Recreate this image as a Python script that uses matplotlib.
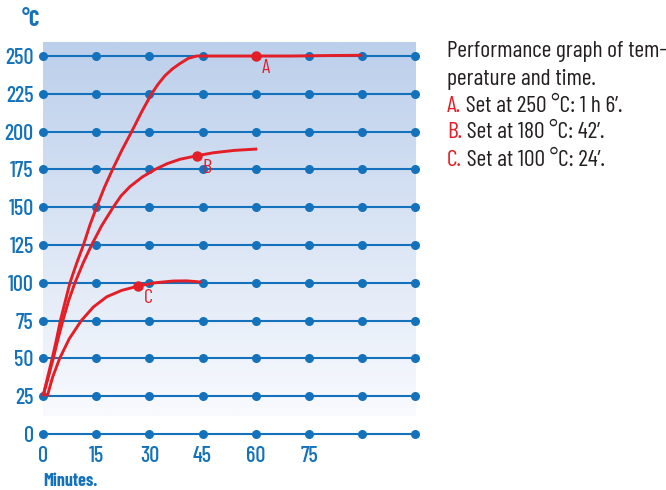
"""Oven performance graph: temperature against time for three set points."""

import numpy as np
import matplotlib.pyplot as plt
from matplotlib.colors import LinearSegmentedColormap

plt.switch_backend("Agg")
plt.rcParams["font.family"] = ["Barlow Condensed", "Roboto Condensed", "DejaVu Sans"]

BLUE = "#1372BB"
RED = "#E41E26"
DARK = "#231F20"

# grid
grid_temps = [0, 25, 50, 75, 100, 125, 150, 175, 200, 225, 250]
grid_minutes = [0, 15, 30, 45, 60, 75, 90, 105]
x_labels = ["0", "15", "30", "45", "60", "75", "", ""]

# curve A (set 250 °C)
a_min = [0, 1.3, 2.6, 3.8, 4.9, 6.3, 7.6, 9.5, 11.4, 13.2, 15.1, 17.3, 19.6,
         22.3, 25.0, 27.8, 30.6, 32.5, 34.4, 36.5, 38.6, 41.0, 43.3, 50, 60, 70, 80, 90]
a_temp = [25, 37.5, 50, 62.5, 75, 88, 100, 113, 125, 138, 150, 163, 175,
          188, 200, 213, 225, 231.5, 237, 241.5, 245, 248.5, 250, 250, 250, 250,
          250.3, 250.5]

# curve B (set 180 °C)
b_min = [0, 1.5, 2.9, 4.2, 5.6, 7.2, 9.0, 11.3, 13.7, 16.6, 19.8, 22.0, 24.5,
         28.0, 31.6, 35.0, 38.6, 43.3, 48, 54, 60.4]
b_temp = [25, 37.5, 50, 62.5, 75, 88, 100, 113, 125, 138, 150, 157.5, 163.6,
          170, 175, 178.8, 181.7, 184, 186, 187.6, 188.5]

# curve C (set 100 °C)
c_min = [1.2, 2.7, 4.7, 7.4, 10.8, 14.2, 18.0, 22.2, 26.9, 31.5, 36.7, 40.5, 44.7]
c_temp = [25, 37.5, 50, 63, 75, 84, 90.8, 95, 97.9, 100, 101.2, 101.3, 100.5]

# highlighted points with their letters
mark_min = [60, 43.3, 26.9]
mark_temp = [250, 184, 97.9]
mark_names = ["A", "B", "C"]

legend_lines = [
    (None, "Performance graph of tem-"),
    (None, "perature and time."),
    ("A.", " Set at 250 °C: 1 h 6’."),
    ("B.", " Set at 180 °C: 42’."),
    ("C.", " Set at 100 °C: 24’."),
]

fig = plt.figure(figsize=(6.66, 4.9), dpi=100)
ax = fig.add_axes([0.0539, 0.0988, 0.5805, 0.8239])
ax.set_xlim(-2, 107)
ax.set_ylim(-5, 262)

# vertical gradient background
cmap = LinearSegmentedColormap.from_list("bg", ["#F8FAFE", "#BCCFEB"])
grad = np.linspace(0, 1, 256).reshape(-1, 1)
ax.imshow(grad, cmap=cmap, origin="lower", aspect="auto",
          extent=(0, 105, 12, 259), zorder=0)

for temp in grid_temps:
    ax.plot([grid_minutes[0], grid_minutes[-1]], [temp, temp], color=BLUE, lw=1.5, zorder=1)
    ax.plot(grid_minutes, [temp] * len(grid_minutes), "o", color=BLUE, ms=6.5,
            mec="none", zorder=2)

for mins, temps in [(a_min, a_temp), (b_min, b_temp), (c_min, c_temp)]:
    ax.plot(mins, temps, color=RED, lw=2.1, solid_capstyle="butt",
            solid_joinstyle="round", zorder=3)
ax.plot(mark_min, mark_temp, "o", color=RED, ms=7.5, mec="none", zorder=4)
for m, t, name in zip(mark_min, mark_temp, mark_names):
    ax.annotate(name, (m, t), xytext=(4, -2), textcoords="offset points",
                ha="left", va="top", color=RED, fontsize=14.5, zorder=5)

for side in ax.spines.values():
    side.set_visible(False)
ax.set_yticks(grid_temps)
ax.set_yticklabels([str(t) for t in grid_temps])
ax.set_xticks(grid_minutes)
ax.set_xticklabels(x_labels)
ax.tick_params(axis="both", length=0, colors=BLUE, labelsize=16)
ax.tick_params(axis="y", pad=1.5)
ax.tick_params(axis="x", pad=3)
for lab in ax.get_xticklabels() + ax.get_yticklabels():
    lab.set_fontweight(500)

fig.text(22 / 666, 1 - 20 / 490, "°C", color=BLUE, fontsize=16, fontweight="bold",
         ha="left", va="center")
fig.text(43 / 666, 1 - 481 / 490, "Minutes.", color=BLUE, fontsize=13,
         fontweight="bold", ha="left", va="center")

y0 = 52
for i, (prefix, rest) in enumerate(legend_lines):
    y = 1 - (y0 + i * 27) / 490
    if prefix is None:
        fig.text(447 / 666, y, rest, color=DARK, fontsize=17, ha="left", va="center")
    else:
        p = fig.text(447 / 666, y, prefix, color=RED, fontsize=17, ha="left",
                     va="center")
        ax.annotate(rest, xy=(1, 0.5), xycoords=p, ha="left", va="center",
                    color=DARK, fontsize=17, annotation_clip=False)

fig.savefig("out.png", dpi=100)
plt.close(fig)
